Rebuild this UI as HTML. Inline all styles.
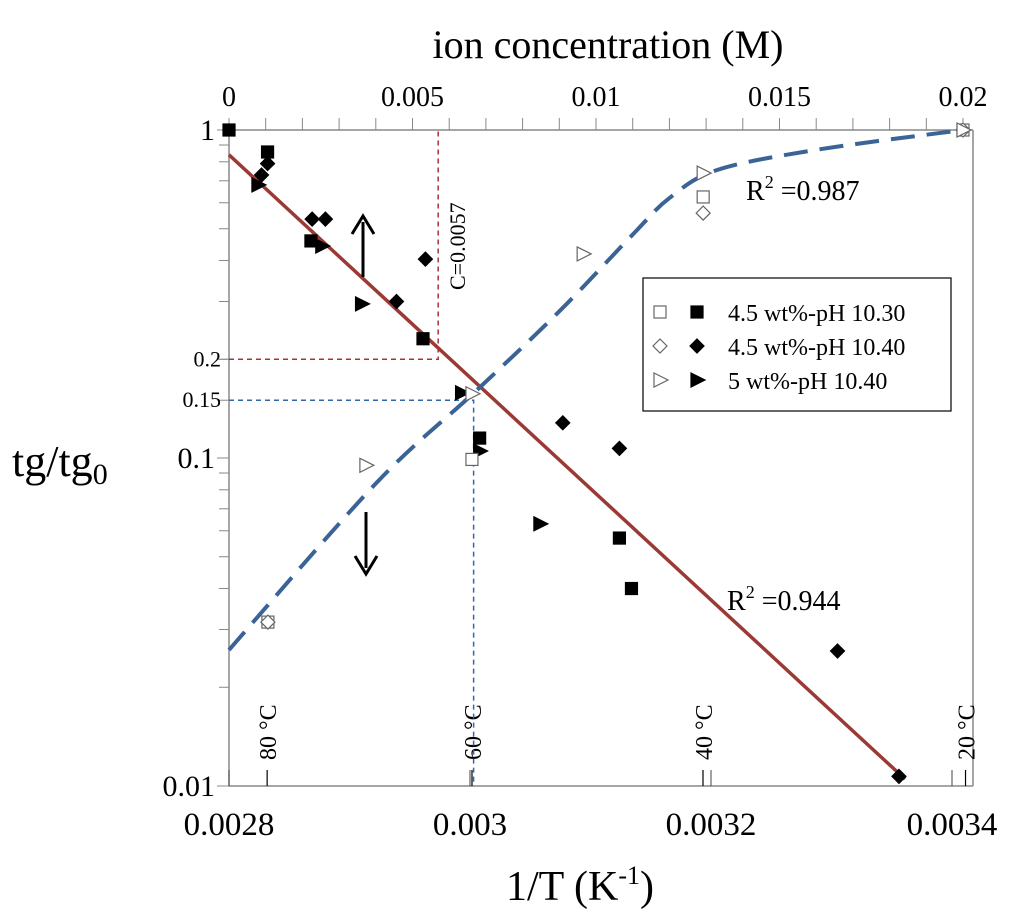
<!DOCTYPE html>
<html><head><meta charset="utf-8"><style>
body{margin:0;background:#fff}
svg{display:block;font-family:"Liberation Serif",serif}
</style></head><body>
<svg id="c" width="1024" height="923">
<text x="608" y="58" font-size="40" text-anchor="middle">ion concentration (M)</text>
<text x="580" y="900" font-size="42" text-anchor="middle">1/T (K<tspan font-size="26" dy="-16">-1</tspan><tspan dy="16">)</tspan></text>
<text x="12" y="476" font-size="44">tg/tg<tspan font-size="30" dy="8">0</tspan></text>
</svg>
<script>
const NS='http://www.w3.org/2000/svg';
const svg=document.getElementById('c');
const X0=229,X1=952,Y0=130,K=328,C1=963;
const xT=v=>X0+(v-0.0028)/0.0006*(X1-X0);
const xC=v=>X0+v/0.02*(C1-X0);
const yL=v=>Y0-Math.log10(v)*K;
function mk(t,a,p){const e=document.createElementNS(NS,t);for(const k in a)e.setAttribute(k,a[k]);(p||svg).appendChild(e);return e;}

const bottomTicks=[0.0028,0.003,0.0032,0.0034];
const bottomLabels=['0.0028','0.003','0.0032','0.0034'];
const topTicks=[0,0.005,0.01,0.015,0.02];
const topLabels=['0','0.005','0.01','0.015','0.02'];
const leftTicks=[1,0.2,0.15,0.1,0.01];
const leftLabels=['1','0.2','0.15','0.1','0.01'];
const tempC=[80,60,40,20];

const sqX=[0.0028,0.002832,0.002868,0.002961,0.003008,0.003124,0.003134];
const sqY=[1,0.857,0.459,0.231,0.115,0.057,0.040];
const diX=[0.002827,0.002832,0.002869,0.00288,0.002963,0.002939,0.003077,0.003124,0.003305,0.003356];
const diY=[0.729,0.79,0.535,0.535,0.404,0.30,0.128,0.107,0.0258,0.0107];
const trX=[0.002824,0.002877,0.00291,0.002993,0.003008,0.003058];
const trY=[0.68,0.443,0.295,0.158,0.105,0.063];
const oSqX=[0.00106,0.00662,0.01292,0.02];
const oSqY=[0.0316,0.099,0.625,1];
const oDiX=[0.00106,0.01292,0.02];
const oDiY=[0.0316,0.558,1];
const oTrX=[0.00373,0.00662,0.00965,0.01292,0.02];
const oTrY=[0.095,0.157,0.419,0.739,1];
const fitC=[0,0.004,0.0067,0.009,0.011,0.012,0.0133,0.016,0.02];
const fitY=[0.026,0.0836,0.159,0.28,0.48,0.62,0.755,0.87,1];
const lineX=[0.0028,0.003361];
const lineY=[0.84,0.0105];

mk('line',{x1:X0,y1:Y0,x2:X0,y2:786,stroke:'#888','stroke-width':1.5,});
mk('line',{x1:X0,y1:Y0,x2:973,y2:Y0,stroke:'#888','stroke-width':1.5,});
mk('line',{x1:973,y1:Y0,x2:973,y2:786,stroke:'#888','stroke-width':1.5,});
mk('line',{x1:X0,y1:786,x2:973,y2:786,stroke:'#888','stroke-width':1.5,});
for(let i=0;i<=20;i++){mk('line',{x1:xC(i*0.001),y1:Y0,x2:xC(i*0.001),y2:Y0-12,stroke:'#888','stroke-width':1});}
topTicks.forEach((v,i)=>{const t=mk('text',{x:xC(v),y:106,'font-size':28,'text-anchor':'middle'});t.textContent=topLabels[i];

});
[1,0.1].forEach(d=>{for(let m=2;m<=9;m++){const y=yL(d*m/10);mk('line',{x1:X0,y1:y,x2:X0-10,y2:y,stroke:'#888','stroke-width':1});}});
leftTicks.forEach((v,i)=>{mk('line',{x1:X0,y1:yL(v),x2:X0-12,y2:yL(v),stroke:'#888','stroke-width':1});
const big=(v==1||v==0.1||v==0.01);
const t=mk('text',{x:X0-(big?14:8),y:yL(v)+(big?10:7),'font-size':big?30:22,'text-anchor':'end'});t.textContent=leftLabels[i];

});
bottomTicks.forEach((v,i)=>{mk('line',{x1:xT(v),y1:786,x2:xT(v),y2:770,stroke:'#444','stroke-width':1});
const t=mk('text',{x:xT(v),y:835,'font-size':33,'text-anchor':'middle'});t.textContent=bottomLabels[i];

});
tempC.forEach(c=>{const x=xT(1/(c+273.15));mk('line',{x1:x,y1:786,x2:x,y2:770,stroke:'#000','stroke-width':1.2});
const t=mk('text',{x:x+9,y:760,'font-size':24,transform:`rotate(-90 ${x+9} 760)`});t.textContent=c+' °C';

});
const dr={stroke:'#a33','stroke-width':1.5,'stroke-dasharray':'5,4',fill:'none'};
mk('polyline',Object.assign({points:`${X0},${yL(0.2)} ${xC(0.0057)},${yL(0.2)} ${xC(0.0057)},${Y0}`,},dr));
const db={stroke:'#36a','stroke-width':1.5,'stroke-dasharray':'5,4',fill:'none'};
mk('polyline',Object.assign({points:`${X0},${yL(0.15)} ${xT(0.003003)},${yL(0.15)} ${xT(0.003003)},786`,},db));
const ct=mk('text',{x:465,y:290,'font-size':22,transform:'rotate(-90 465 290)'});ct.textContent='C=0.0057';


const rl=mk('line',{x1:xT(lineX[0]),y1:yL(lineY[0]),x2:xT(lineX[1]),y2:yL(lineY[1]),stroke:'#9b3a35','stroke-width':3.5});


const P=fitC.map((c,i)=>[xC(c),yL(fitY[i])]);
let d='M'+P[0][0]+','+P[0][1];
for(let i=0;i<P.length-1;i++){const p0=P[Math.max(0,i-1)],p1=P[i],p2=P[i+1],p3=P[Math.min(P.length-1,i+2)];
d+=` C${p1[0]+(p2[0]-p0[0])/6},${p1[1]+(p2[1]-p0[1])/6} ${p2[0]-(p3[0]-p1[0])/6},${p2[1]-(p3[1]-p1[1])/6} ${p2[0]},${p2[1]}`;}
const bl=mk('path',{d:d,stroke:'#3a6496','stroke-width':4,fill:'none','stroke-dasharray':'24,12'});


function sq(x,y,f){return mk('rect',{x:x-6,y:y-6,width:12,height:12,fill:f?'#000':'#fff',stroke:f?'#000':'#666','stroke-width':1.2});}
function di(x,y,f){return mk('polygon',{points:`${x},${y-7} ${x+7},${y} ${x},${y+7} ${x-7},${y}`,fill:f?'#000':'#fff',stroke:f?'#000':'#666','stroke-width':1.2});}
function tr(x,y,f){return mk('polygon',{points:`${x-6},${y-7} ${x+8},${y} ${x-6},${y+7}`,fill:f?'#000':'#fff',stroke:f?'#000':'#666','stroke-width':1.2});}
sqX.forEach((v,i)=>{const e=sq(xT(v),yL(sqY[i]),1);
});
diX.forEach((v,i)=>{const e=di(xT(v),yL(diY[i]),1);
});
trX.forEach((v,i)=>{const e=tr(xT(v),yL(trY[i]),1);
});
oSqX.forEach((v,i)=>{const e=sq(xC(v),yL(oSqY[i]),0);
});
oDiX.forEach((v,i)=>{const e=di(xC(v),yL(oDiY[i]),0);
});
oTrX.forEach((v,i)=>{const e=tr(xC(v),yL(oTrY[i]),0);
});
const a1=mk('g',{});
mk('line',{x1:363,y1:277,x2:363,y2:222,stroke:'#000','stroke-width':3},a1);
mk('polyline',{points:'352,234 363,216 374,234',stroke:'#000','stroke-width':3,fill:'none'},a1);
const a2=mk('g',{});
mk('line',{x1:366,y1:512,x2:366,y2:568,stroke:'#000','stroke-width':3},a2);
mk('polyline',{points:'355,556 366,574 377,556',stroke:'#000','stroke-width':3,fill:'none'},a2);
function r2(x,y,v,n){const t=mk('text',{x:x,y:y,'font-size':28});t.innerHTML='R<tspan font-size="18" dy="-12">2</tspan><tspan dy="12"> =</tspan>'+v;

}
r2(746,200,'0.987','r2-concentration');
r2(727,610,'0.944','r2-temperature');
const lg=mk('g',{});
mk('rect',{x:643,y:278,width:308,height:133,fill:'#fff',stroke:'#000','stroke-width':1.2},lg);
const lab=['4.5 wt%-pH 10.30','4.5 wt%-pH 10.40','5 wt%-pH 10.40'];const fns=[sq,di,tr];
lab.forEach((s,i)=>{const y=312+i*34;const o=fns[i](660,y,0),f=fns[i](697,y,1);lg.appendChild(o);lg.appendChild(f);
const t=mk('text',{x:728,y:y+9,'font-size':24},lg);t.textContent=s;

});
</script>
</body></html>
